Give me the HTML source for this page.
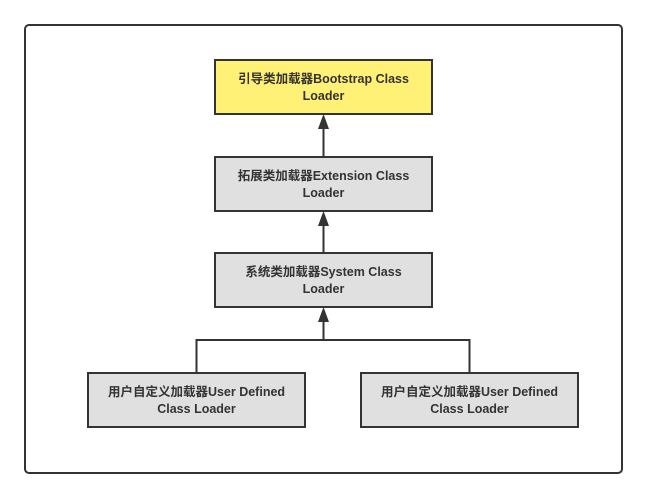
<!DOCTYPE html>
<html><head><meta charset="utf-8"><style>
html,body{margin:0;padding:0;background:#fff;}
svg text{font-family:"Liberation Sans","Noto Sans CJK SC",sans-serif;font-weight:bold;font-size:12.5px;fill:#333;}
</style></head><body>
<svg width="647" height="499" xmlns="http://www.w3.org/2000/svg">
<rect x="25" y="25" width="597" height="448" rx="4" fill="#fff" stroke="#333" stroke-width="2"/>
<g stroke="#333" stroke-width="2">
<rect x="215" y="60" width="217" height="54" fill="#fff176"/>
<rect x="215" y="157" width="217" height="54" fill="#e0e0e0"/>
<rect x="215" y="253" width="217" height="54" fill="#e0e0e0"/>
<rect x="88" y="373" width="217" height="54" fill="#e0e0e0"/>
<rect x="361" y="373" width="217" height="54" fill="#e0e0e0"/>
<line x1="323.5" y1="128" x2="323.5" y2="157"/>
<line x1="323.5" y1="225" x2="323.5" y2="253"/>
<line x1="323.5" y1="321" x2="323.5" y2="340"/>
<polyline points="196.5,373 196.5,340 469.5,340 469.5,373" fill="none"/>
</g>
<g fill="#333">
<polygon points="323.5,114 318,129 329,129"/>
<polygon points="323.5,211 318,226 329,226"/>
<polygon points="323.5,307 318,322 329,322"/>
</g>
<g text-anchor="middle">
<text x="323.5" y="83">引导类加载器Bootstrap Class</text><text x="323.5" y="100">Loader</text>
<text x="323.5" y="180">拓展类加载器Extension Class</text><text x="323.5" y="197">Loader</text>
<text x="323.5" y="276">系统类加载器System Class</text><text x="323.5" y="293">Loader</text>
<text x="196.5" y="396">用户自定义加载器User Defined</text><text x="196.5" y="413">Class Loader</text>
<text x="469.5" y="396">用户自定义加载器User Defined</text><text x="469.5" y="413">Class Loader</text>
</g>
</svg>
</body></html>
